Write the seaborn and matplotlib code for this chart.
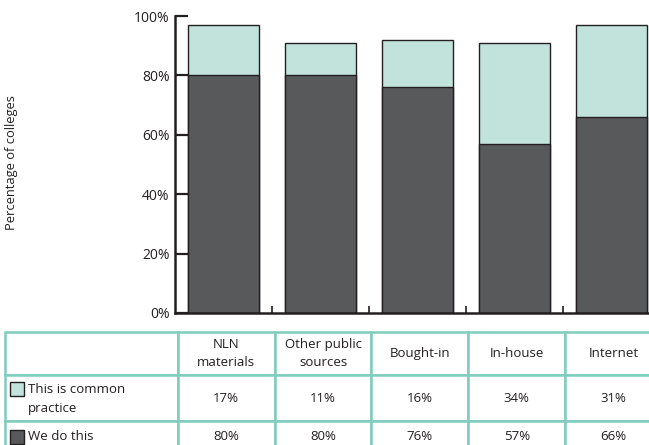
import numpy as np
import pandas as pd
import matplotlib
matplotlib.use("Agg")
import matplotlib.pyplot as plt
from matplotlib.patches import Rectangle
import seaborn as sns

# ------------ data --------------
sources = ["NLN\nmaterials", "Other public\nsources", "Bought-in", "In-house", "Internet"]
common_practice = [17, 11, 16, 34, 31]
we_do_this = [80, 80, 76, 57, 66]
series_labels = ["This is common\npractice", "We do this"]
y_ticks = [0, 20, 40, 60, 80, 100]

dark = "#58595b"
teal = "#c1e3dc"
line_teal = "#80ccbd"
ink = "#231f20"

df = pd.DataFrame({"source": sources, "common": common_practice, "do": we_do_this})
df["total"] = df["common"] + df["do"]

sns.set_style("white")
plt.rcParams["font.family"] = ["Open Sans", "DejaVu Sans"]

W, H = 649, 445
fig = plt.figure(figsize=(W / 100, H / 100), dpi=100)

# ------------ stacked bars --------------
ax = fig.add_axes([175 / W, 132 / H, 1 - 175 / W, 297 / H])
sns.barplot(data=df, x="source", y="total", color=teal, saturation=1,
            edgecolor=ink, linewidth=1, width=0.73, ax=ax)
sns.barplot(data=df, x="source", y="do", color=dark, saturation=1,
            edgecolor=ink, linewidth=1, width=0.73, ax=ax)

ax.set_xlim(-0.5, 4.39)
ax.set_ylim(0, 100)
ax.set_yticks(y_ticks)
ax.set_yticklabels([f"{v}%" for v in y_ticks])
ax.set_xticks(np.arange(len(sources) - 1) + 0.5)
ax.set_xticklabels([])
ax.set_xlabel("")
ax.set_ylabel("")
ax.tick_params(axis="y", direction="in", length=9, width=1.6, color=ink,
               labelcolor=ink, labelsize=10, pad=4, left=True)
ax.tick_params(axis="x", direction="in", length=5, width=1.2, color=ink, bottom=True)
sns.despine(ax=ax)
for side in ["left", "bottom"]:
    ax.spines[side].set_linewidth(1.8)
    ax.spines[side].set_color(ink)

fig.text(12 / W, 1 - 163 / H, "Percentage of colleges", rotation=90,
         ha="center", va="center", fontsize=9.3, color=ink)

# ------------ data table --------------
row_heights = [43, 46, 30]
tbl_h = sum(row_heights)
tax = fig.add_axes([5 / W, (H - 332 - tbl_h) / H, 657 / W, tbl_h / H])
tax.set_xlim(0, 657)
tax.set_ylim(tbl_h, 0)
tax.axis("off")

cell_text = [[""] + sources,
             [""] + [f"{v}%" for v in common_practice],
             [""] + [f"{v}%" for v in we_do_this]]
tbl = tax.table(cellText=cell_text, colWidths=[173] + [97] * len(sources),
                cellLoc="center", bbox=[0, 0, 1, 1])
tbl.auto_set_font_size(False)
tbl.set_fontsize(9.5)
for (r, c), cell in tbl.get_celld().items():
    cell.set_height(row_heights[r])
    cell.set_edgecolor(line_teal)
    cell.set_linewidth(1.8)
    cell.get_text().set_color(ink)
    cell.get_text().set_linespacing(1.55)

line_gap = 20
for i, (label, color) in enumerate(zip(series_labels, [teal, dark])):
    top = sum(row_heights[:i + 1])
    mid = top + row_heights[i + 1] / 2 + 1
    n_lines = label.count("\n") + 1
    first = mid - (n_lines - 1) * line_gap / 2
    tax.add_patch(Rectangle((5, first - 7), 14, 14, facecolor=color,
                            edgecolor=ink, linewidth=1))
    tax.text(23, mid, label, ha="left", va="center", fontsize=9.5,
             color=ink, linespacing=1.55)

fig.savefig("out.png", dpi=100)
